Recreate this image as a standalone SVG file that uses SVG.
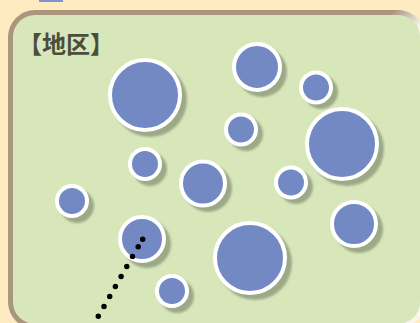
<svg xmlns="http://www.w3.org/2000/svg" width="420" height="323" viewBox="0 0 420 323">
  <style>
    .dot{fill:#7289C4;stroke:#FFFFFF;stroke-width:4}
    .shd{fill:#9CA987}
    .title{font-family:"Noto Sans CJK JP","Noto Sans CJK SC",sans-serif;font-size:24px;font-weight:bold;fill:#4B4D3D}
  </style>
  <defs>
    <linearGradient id="frame" gradientUnits="userSpaceOnUse" x1="395" y1="10" x2="414" y2="32">
      <stop offset="0" stop-color="#A9967D"/>
      <stop offset="0.5" stop-color="#CFC8BC"/>
      <stop offset="1" stop-color="#FBF6EC"/>
    </linearGradient>
    <filter id="blur" x="-20%" y="-20%" width="140%" height="140%">
      <feGaussianBlur stdDeviation="0.8"/>
    </filter>
  </defs>
  <rect x="0" y="0" width="420" height="323" fill="#FFEBC1"/>
  <rect x="39" y="0" width="24" height="2" fill="#7D94CC"/>
  <g id="panel">
    <rect x="8" y="10" width="417" height="319" rx="27" fill="url(#frame)"/>
    <rect x="13" y="15" width="407" height="309" rx="22" fill="#D8E7BA"/>
  </g>
  <g id="title">
    <text class="title" x="66" y="53" text-anchor="middle">【地区】</text>
  </g>
  <g id="shadows" class="shd" filter="url(#blur)">
    <circle cx="150" cy="100" r="37"/>
    <circle cx="262" cy="72" r="25"/>
    <circle cx="321" cy="92" r="17"/>
    <circle cx="246" cy="134" r="17"/>
    <circle cx="347" cy="149" r="37"/>
    <circle cx="296" cy="187" r="17"/>
    <circle cx="150" cy="169" r="17"/>
    <circle cx="208" cy="188" r="24"/>
    <circle cx="77" cy="206" r="17"/>
    <circle cx="147" cy="244" r="24"/>
    <circle cx="177" cy="296" r="17"/>
    <circle cx="255" cy="263" r="37"/>
    <circle cx="359" cy="229" r="24"/>
  </g>
  <g id="n1"><circle class="dot" cx="145" cy="95" r="35"/></g>
  <g id="n2"><circle class="dot" cx="257" cy="67" r="23"/></g>
  <g id="n3"><circle class="dot" cx="316" cy="87.5" r="15"/></g>
  <g id="n4"><circle class="dot" cx="241" cy="129.5" r="15"/></g>
  <g id="n5"><circle class="dot" cx="342" cy="144" r="35"/></g>
  <g id="n6"><circle class="dot" cx="291" cy="182.5" r="15"/></g>
  <g id="n7"><circle class="dot" cx="145" cy="164" r="15"/></g>
  <g id="n8"><circle class="dot" cx="203" cy="183.5" r="22"/></g>
  <g id="n9"><circle class="dot" cx="72" cy="201" r="15"/></g>
  <g id="n10"><circle class="dot" cx="142" cy="239" r="22"/></g>
  <g id="n11"><circle class="dot" cx="172" cy="291" r="15"/></g>
  <g id="n12"><circle class="dot" cx="250" cy="258" r="35"/></g>
  <g id="n13"><circle class="dot" cx="354" cy="224" r="22"/></g>
  <g id="connectors">
    <path d="M142.7,239.3h0 M138.2,246.7h0 M132.5,256.5h0 M126.8,266.4h0 M121.1,276.5h0 M115.4,286.4h0 M109.7,296.4h0 M104,306.4h0 M98.3,316.3h0" fill="none" stroke="#000000" stroke-width="5.5" stroke-linecap="round"/>
  </g>
</svg>
